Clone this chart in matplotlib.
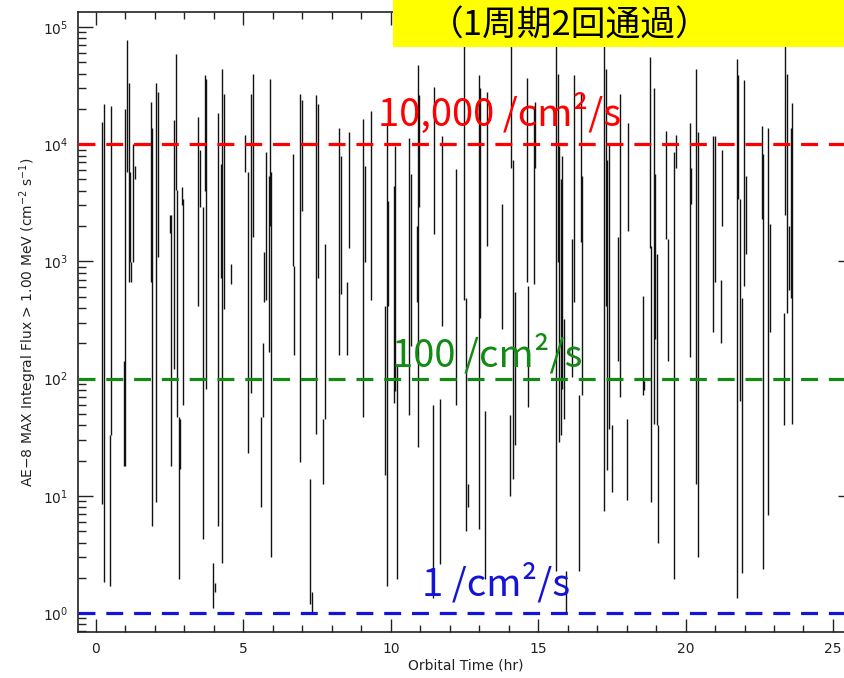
import matplotlib
matplotlib.use("Agg")
import matplotlib.pyplot as plt
from matplotlib.patches import Rectangle
from matplotlib.ticker import LogLocator, MultipleLocator, NullFormatter

# Orbital time of each sampled sweep (hr) and the flux range it spans (/cm^2/s)
t_hr = [
    0.22, 0.27, 0.46, 0.50, 0.95, 1.00, 1.06, 1.11, 1.14, 1.20, 1.26, 1.33,
    1.86, 1.90, 2.05, 2.10, 2.50, 2.56, 2.65, 2.70, 2.75, 2.82, 2.86, 2.92, 2.96,
    3.46, 3.52, 3.63, 3.69, 3.74, 3.98, 4.03, 4.14, 4.23, 4.28, 4.33, 4.59,
    5.05, 5.14, 5.27, 5.33, 5.59, 5.67, 5.70, 5.78, 5.86, 5.92, 5.95,
    6.67, 6.72, 6.92, 6.98, 7.26, 7.32, 7.47, 7.52, 7.71, 7.77,
    8.26, 8.30, 8.51, 8.57, 9.07, 9.13, 9.33, 9.82, 9.86, 9.90,
    10.11, 10.16, 10.20, 10.63, 10.68, 10.88, 10.94, 10.97,
    11.43, 11.47, 11.67, 11.73, 12.22, 12.48, 12.56, 12.61,
    12.99, 13.04, 13.21, 13.27, 13.76, 14.04, 14.09, 14.14, 14.20,
    14.63, 14.66, 14.85, 14.89, 15.62, 15.68, 15.72, 15.78, 15.81, 15.86, 15.95,
    16.15, 16.21, 16.38, 16.45, 16.49, 17.23, 17.29, 17.34, 17.40, 17.51,
    17.72, 17.76, 18.00, 18.04, 18.56, 18.59, 18.79, 18.84, 18.93, 18.98,
    19.03, 19.07, 19.34, 19.39, 19.60, 19.66, 20.14, 20.20, 20.37, 20.43,
    20.94, 20.99, 21.19, 21.24, 21.73, 21.79, 21.84, 21.92, 21.99, 22.04,
    22.58, 22.64, 22.81, 22.86, 23.34, 23.39, 23.45, 23.51, 23.56, 23.62,
]
flux_lo = [
    8.5, 1.86, 1.7, 33, 18, 18, 5.8e3, 670, 980, 670, 980, 5.0e3,
    670, 5.5, 8.8, 1.1e3, 1.75e3, 18, 121, 4.1e3, 47, 1.94, 17, 3.0e3, 60,
    420, 2.9e3, 4.3, 4.0e3, 82, 1.1, 1.5, 5.5, 720, 2.7, 390, 640,
    5.8e3, 23, 76, 1.6e3, 8.1, 47, 450, 470, 170, 2.0e3, 3.0,
    910, 160, 19.5, 2.7e3, 1.2, 1.0, 34, 720, 12.6, 45,
    160, 530, 160, 1.3e3, 47, 980, 470, 15, 1.7, 420,
    62, 79, 1.94, 49, 190, 450, 26, 2.9e3,
    1.35, 1.7e3, 2.6, 280, 60, 470, 5.0, 8.1,
    5.2, 330, 1.94, 1.34e3, 263, 9.9, 6.3e3, 14, 27,
    670, 57, 640, 6.3e3, 2.3, 980, 29, 33, 82, 45, 1.0,
    104, 450, 2.3, 1.45e3, 73, 7.5, 420, 16.6, 37, 10.8,
    142, 70, 9.2, 1.8e3, 73, 80, 1.3e3, 8.8, 41, 217,
    40, 4.0, 1.56e3, 142, 1.94, 6.3e3, 153, 3.1e3, 12.6, 3.0,
    250, 670, 200, 2.0e3, 1.35, 3.4e3, 64, 2.2, 620, 1.15e3,
    2.3e3, 2.4, 6.9, 250, 40, 2.5e3, 360, 570, 490, 41,
]
flux_hi = [
    1.56e4, 2.2e4, 33, 2.1e4, 142, 2.0e4, 7.8e4, 3.3e4, 5.8e3, 980, 1.0e4, 6.5e3,
    2.3e4, 1.36e4, 3.3e4, 2.8e4, 2.5e3, 2.5e3, 1.6e4, 5.9e4, 4.1e3, 47, 45, 4.3e3, 3.4e3,
    1.7e4, 8.9e3, 2.9e3, 3.9e4, 3.6e4, 2.7, 1.8, 1.86e4, 6.8e3, 4.4e4, 2.7e4, 950,
    1.2e4, 5.8e3, 2.7e4, 4.0e4, 47, 200, 1.2e3, 8.6e3, 5.4e3, 3.6e4, 5.8e3,
    8.2e3, 910, 2.7e4, 2.4e4, 14, 1.5, 2.6e4, 2.2e4, 45, 1.4e3,
    1.36e4, 7.9e3, 670, 1.26e4, 1.65e4, 6.5e3, 1.9e4, 420, 1.5e4, 3.3e3,
    4.4e3, 9.6e3, 130, 1.12e4, 5.6e3, 2.0e3, 4.7e4, 2.6e4,
    60, 3.1e4, 67, 1.17e4, 6.1e3, 8.5e4, 490, 12.6,
    3.9e4, 3.0e4, 53, 2.8e4, 3.1e3, 49, 8.0e4, 7.3e3, 550,
    3.7e4, 620, 2.1e4, 2.3e4, 8.5e4, 4.0e4, 9.6e3, 5.0e3, 7.9e3, 320, 2.3,
    1.56e3, 3.9e4, 73, 2.7e4, 5.4e3, 8.0e4, 4.4e4, 7.3e3, 1.0e4, 40,
    1.6e3, 2.7e4, 45, 1.5e4, 510, 96, 5.5e4, 1.34e3, 3.0e4, 5.6e3,
    1.15e3, 40, 1.3e4, 1.56e3, 8.6e3, 1.2e4, 1.5e4, 6.3e3, 4.4e4, 1.26e4,
    1.17e4, 1.17e4, 690, 8.9e3, 5.3e4, 3.9e4, 3.4e3, 490, 3.5e4, 5.4e3,
    1.42e4, 8.2e3, 1.36e4, 2.1e3, 360, 8.0e4, 4.0e4, 2.0e3, 1.36e4, 2.25e4,
]

# Reference flux levels and their labels
levels = [1.0e4, 1.0e2, 1.0e0]
level_colors = ["#ff0000", "#138a13", "#1414d8"]
level_labels = ["10,000 /cm²/s", "100 /cm²/s", "1 /cm²/s"]
label_t = [13.7, 13.26, 13.57]
label_flux = [1.43e4, 1.26e2, 1.40]

title_note = "（1周期2回通過）"

W, H = 845, 678
fig = plt.figure(figsize=(W / 100, H / 100), dpi=100)
ax = fig.add_axes([78 / W, 46 / H, (853 - 78) / W, (632 - 12) / H])

ax.set_yscale("log")
ax.set_xlim(-0.61, 25.68)
ax.set_ylim(0.69, 1.34e5)

ax.vlines(t_hr, flux_lo, flux_hi, colors="#111111", linewidth=1.0, zorder=2)

for lev, col in zip(levels, level_colors):
    ax.axhline(lev, color=col, linewidth=2.3, dashes=(5.3, 3.4), zorder=3)

for txt, col, tx, fy in zip(level_labels, level_colors, label_t, label_flux):
    ax.text(tx, fy, txt, color=col, fontsize=27.5, ha="center", va="baseline",
            family=["Noto Sans CJK JP", "DejaVu Sans"], zorder=4)

# IDL-style axes: inward ticks on all four sides
ax.xaxis.set_major_locator(MultipleLocator(5))
ax.xaxis.set_minor_locator(MultipleLocator(1))
ax.yaxis.set_major_locator(LogLocator(base=10, numticks=10))
ax.yaxis.set_minor_locator(LogLocator(base=10, subs=range(2, 10), numticks=20))
ax.yaxis.set_minor_formatter(NullFormatter())
ax.tick_params(which="both", direction="in", top=True, right=True,
               colors="#222222", labelsize=10)
ax.tick_params(axis="x", which="major", length=9.5, width=1, pad=7)
ax.tick_params(axis="x", which="minor", length=5, width=1)
ax.tick_params(axis="y", which="major", length=11, width=1, pad=7)
ax.tick_params(axis="y", which="minor", length=6, width=1)
for sp in ax.spines.values():
    sp.set_color("#222222")
    sp.set_linewidth(1.2)

ax.set_xlabel("Orbital Time (hr)", fontsize=10, color="#222222", labelpad=2)
ax.set_ylabel("AE−8 MAX Integral Flux > 1.00 MeV (cm$^{-2}$ s$^{-1}$)",
              fontsize=10, color="#222222", labelpad=3)

# Highlighted note box along the top edge
fig.patches.append(Rectangle((393 / W, (H - 47) / H), 1 - 393 / W, 47 / H + 0.01,
                             transform=fig.transFigure, facecolor="#ffff00",
                             edgecolor="none", zorder=5))
fig.text(570 / W, (H - 36) / H, title_note, fontsize=25, color="black",
         ha="center", va="baseline",
         family=["Noto Sans CJK JP", "DejaVu Sans"], zorder=6)

fig.savefig("out.png", dpi=100)
